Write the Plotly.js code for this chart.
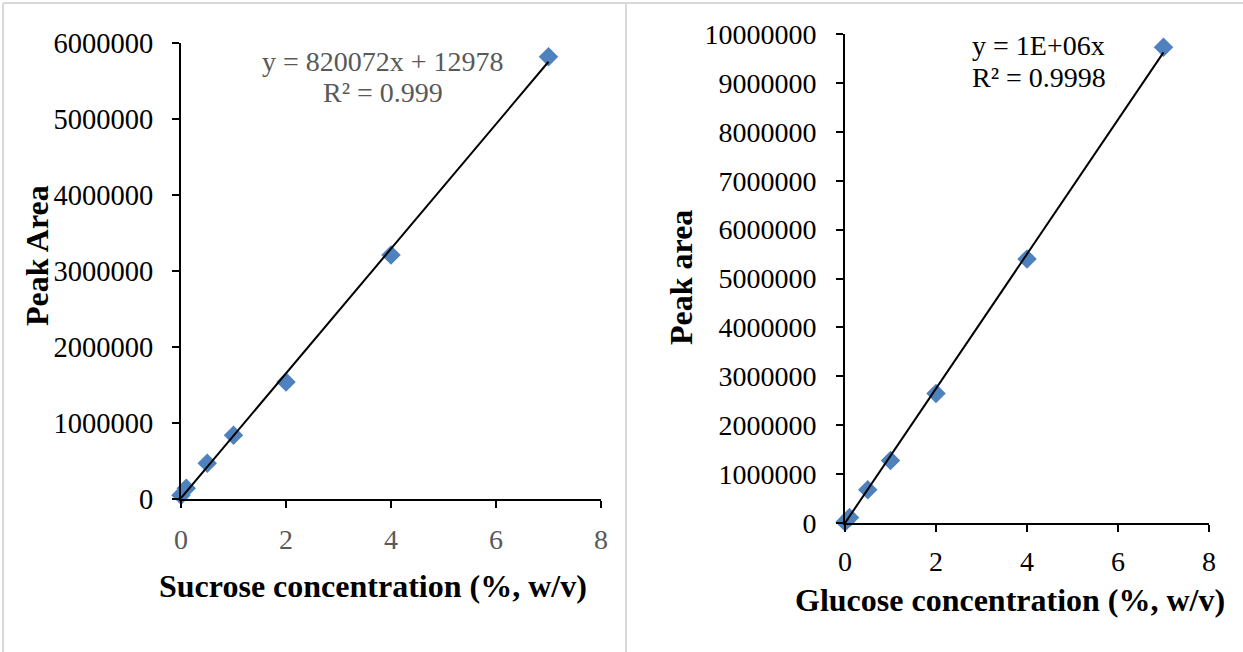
<!DOCTYPE html>
<html>
<head>
<meta charset="utf-8">
<script src="https://cdn.plot.ly/plotly-3.0.1.min.js"></script>
<style>
  html, body { margin: 0; padding: 0; background: #ffffff; }
  #chart { width: 1243px; height: 652px; }
</style>
</head>
<body>
<div id="chart"></div>
<script>
// ---- Data ----
const sucroseConc = [0, 0.1, 0.5, 1, 2, 4, 7];
const sucroseArea = [50000, 140000, 470000, 840000, 1540000, 3210000, 5820000];
const glucoseConc = [0, 0.1, 0.5, 1, 2, 4, 7];
const glucoseArea = [20000, 110000, 680000, 1280000, 2650000, 5400000, 9730000];

// Trendline parameters (from the equations shown on the chart)
const sucroseSlope = 820072;
const sucroseIntercept = 12978;
const glucoseSlope = 1375000;   // displayed rounded as 1E+06
const trendRange = [0, 7];

const sucroseEq = ["y = 820072x + 12978", "R² = 0.999"];
const glucoseEq = ["y = 1E+06x", "R² = 0.9998"];
const xTitles = ["Sucrose concentration (%, w/v)", "Glucose concentration (%, w/v)"];
const yTitles = ["Peak Area", "Peak area"];

// ---- Helpers ----
const W = 1243, H = 652;
const px = v => v / W;
const py = v => 1 - v / H;
const FONT = '"Liberation Serif", "Times New Roman", serif';
const markerBlue = '#4f81bd';

const trendLine = (slope, intercept) => trendRange.map(x => slope * x + intercept);

const traces = [
  { x: sucroseConc, y: sucroseArea, type: 'scatter', mode: 'markers', xaxis: 'x', yaxis: 'y',
    marker: { symbol: 'diamond', size: 15, color: markerBlue }, cliponaxis: false, showlegend: false },
  { x: trendRange, y: trendLine(sucroseSlope, sucroseIntercept), type: 'scatter', mode: 'lines',
    xaxis: 'x', yaxis: 'y', line: { color: '#000000', width: 2 }, cliponaxis: false, showlegend: false },
  { x: glucoseConc, y: glucoseArea, type: 'scatter', mode: 'markers', xaxis: 'x2', yaxis: 'y2',
    marker: { symbol: 'diamond', size: 15, color: markerBlue }, cliponaxis: false, showlegend: false },
  { x: trendRange, y: trendLine(glucoseSlope, 0), type: 'scatter', mode: 'lines',
    xaxis: 'x2', yaxis: 'y2', line: { color: '#000000', width: 2 }, cliponaxis: false, showlegend: false }
];

const axisBase = {
  showgrid: false, zeroline: false, showline: true, linecolor: '#000000', linewidth: 2,
  ticks: 'outside', ticklen: 7, tickwidth: 2, tickcolor: '#000000', fixedrange: true
};

const layout = {
  width: W, height: H,
  margin: { l: 0, r: 0, t: 0, b: 0 },
  paper_bgcolor: '#ffffff', plot_bgcolor: '#ffffff',
  font: { family: FONT, color: '#000000' },
  showlegend: false,
  xaxis: Object.assign({}, axisBase, {
    domain: [px(181), px(601)], range: [0, 8], dtick: 2, anchor: 'y',
    tickfont: { family: FONT, size: 28, color: '#595959' }, ticklabelstandoff: 7
  }),
  yaxis: Object.assign({}, axisBase, {
    domain: [py(499), py(43)], range: [0, 6000000], dtick: 1000000, tickformat: 'd', anchor: 'x',
    tickfont: { family: FONT, size: 28.5, color: '#000000' }, ticklabelstandoff: 13
  }),
  xaxis2: Object.assign({}, axisBase, {
    domain: [px(845), px(1209)], range: [0, 8], dtick: 2, anchor: 'y2',
    tickfont: { family: FONT, size: 28, color: '#000000' }, ticklabelstandoff: 5
  }),
  yaxis2: Object.assign({}, axisBase, {
    domain: [py(523), py(34)], range: [0, 10000000], dtick: 1000000, tickformat: 'd', anchor: 'x2',
    tickfont: { family: FONT, size: 28, color: '#000000' }, ticklabelstandoff: 14
  }),
  shapes: [
    { type: 'line', xref: 'paper', yref: 'paper', x0: px(3), x1: 1, y0: py(3), y1: py(3),
      line: { color: '#d9d9d9', width: 2 } },
    { type: 'line', xref: 'paper', yref: 'paper', x0: px(3), x1: px(3), y0: py(3), y1: 0,
      line: { color: '#d9d9d9', width: 2 } },
    { type: 'line', xref: 'paper', yref: 'paper', x0: px(626), x1: px(626), y0: py(3), y1: 0,
      line: { color: '#d9d9d9', width: 2 } }
  ],
  annotations: [
    { text: '<b>' + xTitles[0] + '</b>', xref: 'paper', yref: 'paper', x: px(373), y: py(586),
      xanchor: 'center', yanchor: 'middle', showarrow: false, font: { family: FONT, size: 32, color: '#000000' } },
    { text: '<b>' + yTitles[0] + '</b>', xref: 'paper', yref: 'paper', x: px(37), y: py(256),
      xanchor: 'center', yanchor: 'middle', textangle: -90, showarrow: false, font: { family: FONT, size: 32, color: '#000000' } },
    { text: '<b>' + xTitles[1] + '</b>', xref: 'paper', yref: 'paper', x: px(1010), y: py(600),
      xanchor: 'center', yanchor: 'middle', showarrow: false, font: { family: FONT, size: 32, color: '#000000' } },
    { text: '<b>' + yTitles[1] + '</b>', xref: 'paper', yref: 'paper', x: px(681), y: py(278),
      xanchor: 'center', yanchor: 'middle', textangle: -90, showarrow: false, font: { family: FONT, size: 32, color: '#000000' } },
    { text: sucroseEq[0], xref: 'paper', yref: 'paper', x: px(383), y: py(61),
      xanchor: 'center', yanchor: 'middle', showarrow: false, font: { family: FONT, size: 28, color: '#595959' } },
    { text: sucroseEq[1], xref: 'paper', yref: 'paper', x: px(383), y: py(93),
      xanchor: 'center', yanchor: 'middle', showarrow: false, font: { family: FONT, size: 28, color: '#595959' } },
    { text: glucoseEq[0], xref: 'paper', yref: 'paper', x: px(970), y: py(45),
      xanchor: 'left', yanchor: 'middle', showarrow: false, font: { family: FONT, size: 28, color: '#000000' } },
    { text: glucoseEq[1], xref: 'paper', yref: 'paper', x: px(970), y: py(78),
      xanchor: 'left', yanchor: 'middle', showarrow: false, font: { family: FONT, size: 28, color: '#000000' } }
  ]
};

Plotly.newPlot('chart', traces, layout, { displayModeBar: false, staticPlot: true });
</script>
</body>
</html>
